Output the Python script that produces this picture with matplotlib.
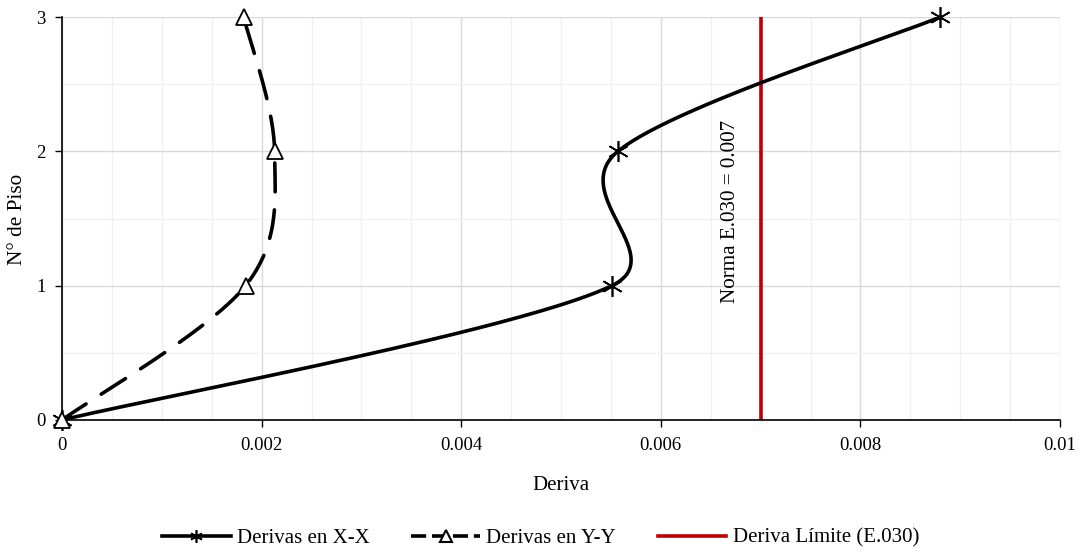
import numpy as np
import matplotlib
matplotlib.use("Agg")
import matplotlib.pyplot as plt
from matplotlib.lines import Line2D
from matplotlib.ticker import MultipleLocator

plt.rcParams['font.family'] = ['Liberation Serif', 'DejaVu Serif']

# Story drifts
pisos = [0, 1, 2, 3]
deriva_xx = [0.0, 0.00551, 0.00557, 0.00880]
deriva_yy = [0.0, 0.00184, 0.00213, 0.00182]
deriva_limite = 0.007

x_ticks = [0, 0.002, 0.004, 0.006, 0.008, 0.01]
x_tick_labels = ['0', '0.002', '0.004', '0.006', '0.008', '0.01']
y_ticks = [0, 1, 2, 3]

fig = plt.figure(figsize=(10.81, 5.53), dpi=100)
ax = fig.add_axes([62 / 1081, 1 - 420 / 553, 998 / 1081, 403 / 553])
ax.set_xlim(0, 0.01)
ax.set_ylim(0, 3)


def smooth(xs, ys, n=80):
    """Bezier smoothing in display space with limited tangent length."""
    pts = ax.transData.transform(np.column_stack([xs, ys]))
    m = len(pts)
    out = []
    for i in range(m - 1):
        p0 = pts[max(i - 1, 0)]
        p1 = pts[i]
        p2 = pts[i + 1]
        p3 = pts[min(i + 2, m - 1)]
        seg_len = np.linalg.norm(p2 - p1)
        d1 = p2 - p0
        d2 = p3 - p1
        f1 = min(1 / 6, 0.5 * seg_len / max(np.linalg.norm(d1), 1e-9))
        f2 = min(1 / 6, 0.5 * seg_len / max(np.linalg.norm(d2), 1e-9))
        c1 = p1 + d1 * f1
        c2 = p2 - d2 * f2
        t = np.linspace(0, 1, n)[:, None]
        seg = ((1 - t) ** 3) * p1 + 3 * ((1 - t) ** 2) * t * c1 \
            + 3 * (1 - t) * t ** 2 * c2 + t ** 3 * p2
        out.append(seg if i == 0 else seg[1:])
    curve = ax.transData.inverted().transform(np.vstack(out))
    return curve[:, 0], curve[:, 1]


# grid
ax.xaxis.set_minor_locator(MultipleLocator(0.0005))
ax.yaxis.set_minor_locator(MultipleLocator(0.5))
ax.set_xticks(x_ticks)
ax.set_xticklabels(x_tick_labels)
ax.set_yticks(y_ticks)
ax.grid(which='minor', color='#f0f0f0', lw=1.0, zorder=0)
ax.grid(which='major', color='#d9d9d9', lw=1.0, zorder=0)
ax.set_axisbelow(True)

ax.tick_params(which='major', direction='out', length=5, width=1, labelsize=13.5,
               color='black', pad=7)
ax.tick_params(which='minor', length=0)

for s in ['top', 'right']:
    ax.spines[s].set_visible(False)
for s in ['left', 'bottom']:
    ax.spines[s].set_color('black')
    ax.spines[s].set_linewidth(1.2)

star = (6, 2, 0)
LW = 2.6

# X-X
sx, sy = smooth(deriva_xx, pisos)
ax.plot(sx, sy, color='black', lw=LW, zorder=3, solid_capstyle='round')
ax.plot(deriva_xx, pisos, ls='none', marker=star, ms=15, mew=1.2,
        mec='black', zorder=4, clip_on=False)

# Y-Y
sx, sy = smooth(deriva_yy, pisos)
ax.plot(sx, sy, color='black', lw=LW, dashes=(8.0, 5.0), dash_capstyle='round',
        zorder=3)
ax.plot(deriva_yy, pisos, ls='none', marker='^', ms=12, mew=1.3,
        mfc='white', mec='black', zorder=4, clip_on=False)

# limit
ax.axvline(deriva_limite, color='#c00000', lw=LW, zorder=2)
ax.text(deriva_limite - 0.0003, 1.556, 'Norma E.030 = 0.007', rotation=90,
        ha='center', va='center', fontsize=15.2)

ax.set_xlabel('Deriva', fontsize=15, labelpad=16)
fig.text(18 / 1081, 1 - 219 / 553, 'N° de Piso', rotation=90,
         ha='center', va='center', fontsize=15.3)

handles = [
    Line2D([], [], color='black', lw=LW, marker=star, ms=9, mew=1.2),
    Line2D([], [], color='black', lw=LW, dashes=(4.2, 1.6), marker='^', ms=8,
           mfc='white', mec='black', mew=1.5),
    Line2D([], [], color='#c00000', lw=LW),
]
labels = ['Derivas en X-X', 'Derivas en Y-Y', 'Deriva Límite (E.030)']
fig.legend(handles, labels, loc='center', bbox_to_anchor=(0.5, 1 - 538 / 553),
           ncol=3, frameon=False, fontsize=15.0, handlelength=3.3,
           columnspacing=2.0, handletextpad=0.3)

fig.savefig('out.png', dpi=100)
